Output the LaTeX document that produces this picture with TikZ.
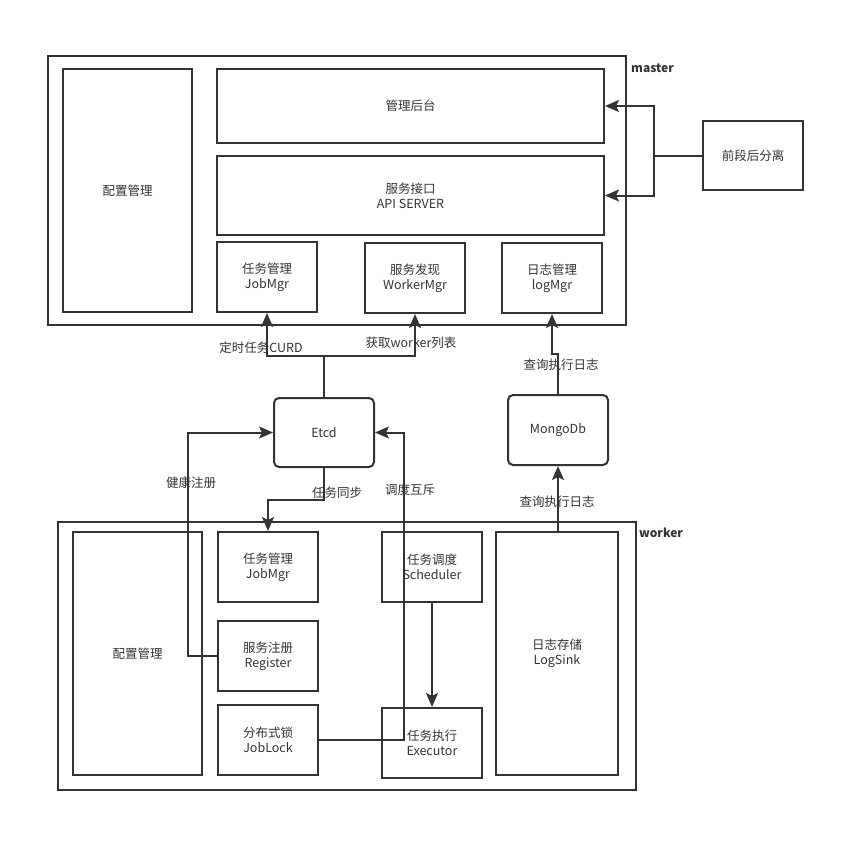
\documentclass[tikz,border=0pt]{standalone}
\usepackage{fontspec}
\setmainfont{Noto Sans CJK SC}
\usetikzlibrary{arrows.meta}
\definecolor{ln}{HTML}{333333}
\tikzset{
  box/.style={draw=ln, line width=2pt, rectangle, align=center, font=\fontsize{12.5}{15}\selectfont, text=ln, inner sep=0pt},
  rbox/.style={box, rounded corners=5pt},
  conn/.style={draw=ln, line width=2pt},
  arr/.style={conn, -{Stealth[length=14pt,width=12pt,inset=3pt]}},
  lbl/.style={font=\fontsize{12.5}{15}\selectfont, text=ln, inner sep=1pt},
  tag/.style={font=\fontsize{12}{14}\selectfont\bfseries, text=ln, anchor=west, inner sep=0pt}
}
\begin{document}
\begin{tikzpicture}[x=1pt,y=-1pt]
\useasboundingbox (0,0) rectangle (865,852);
% master
\node[box, minimum width=578pt, minimum height=269pt] (master) at (337,190.5) {};
\node[tag] (mtag) at (631,68) {master};
\node[box, minimum width=129pt, minimum height=243pt] (mcfg) at (127.5,190.5) {配置管理};
\node[box, minimum width=387pt, minimum height=74pt] (mgmt) at (410.5,106) {管理后台};
\node[box, minimum width=387pt, minimum height=79pt] (api) at (410.5,195.5) {服务接口\\API SERVER};
\node[box, minimum width=100pt, minimum height=70pt] (mjob) at (267,277) {任务管理\\JobMgr};
\node[box, minimum width=100pt, minimum height=70pt] (mwork) at (415,278) {服务发现\\WorkerMgr};
\node[box, minimum width=100pt, minimum height=70pt] (mlog) at (552,278) {日志管理\\logMgr};
% front end
\node[box, minimum width=100pt, minimum height=69pt] (fe) at (753,155.5) {前段后分离};
% middle
\node[rbox, minimum width=100pt, minimum height=69pt] (etcd) at (324,432.5) {Etcd};
\node[rbox, minimum width=100pt, minimum height=70pt] (mongo) at (558,430) {MongoDb};
% worker
\node[box, minimum width=578pt, minimum height=268pt] (worker) at (347,656) {};
\node[tag] (wtag) at (639,533) {worker};
\node[box, minimum width=129pt, minimum height=243pt] (wcfg) at (137.5,653.5) {配置管理};
\node[box, minimum width=100pt, minimum height=70pt] (wjob) at (268,567) {任务管理\\JobMgr};
\node[box, minimum width=100pt, minimum height=70pt] (wreg) at (268,656) {服务注册\\Register};
\node[box, minimum width=100pt, minimum height=70pt] (wlock) at (268,740) {分布式锁\\JobLock};
\node[box, minimum width=100pt, minimum height=70pt] (wsched) at (432,567) {任务调度\\Scheduler};
\node[box, minimum width=100pt, minimum height=70pt] (wexec) at (432,743) {任务执行\\Executor};
\node[box, minimum width=122pt, minimum height=243pt] (wsink) at (557,653.5) {日志存储\\LogSink};
% helper coordinates
\coordinate (f1) at (654,0);
\coordinate (j1) at (0,356);
\coordinate (j2) at (0,354);
\coordinate (j3) at (0,500);
\coordinate (h1) at (188,0);
\coordinate (h2) at (404,0);
% connectors
\draw[conn] (fe.west) -- (fe.west -| f1);
\draw[arr] (fe.west -| f1) |- (mgmt.east);
\draw[arr] (fe.west -| f1) |- (api.east);
\draw[arr] (etcd.north) -- (etcd.north |- j1) -| (mjob.south);
\draw[arr] (etcd.north |- j1) -| (mwork.south);
\draw[arr] (mongo.north) -- (mongo.north |- j2) -| (mlog.south);
\draw[arr] (etcd.south) -- (etcd.south |- j3) -| (wjob.north);
\draw[arr] (wreg.west) -| (etcd.west -| h1) -- (etcd.west);
\draw[arr] (wlock.east) -| (etcd.east -| h2) -- (etcd.east);
\draw[arr] (wsched.south) -- (wexec.north);
\draw[arr] (wsink.north -| mongo.south) -- (mongo.south);
% labels
\node[lbl] (l1) at (261,348) {定时任务CURD};
\node[lbl] (l2) at (411,343) {获取worker列表};
\node[lbl] (l3) at (561,365) {查询执行日志};
\node[lbl] (l4) at (191,483) {健康注册};
\node[lbl] (l5) at (337,493) {任务同步};
\node[lbl] (l6) at (410,490) {调度互斥};
\node[lbl] (l7) at (557,502) {查询执行日志};
\end{tikzpicture}
\end{document}
